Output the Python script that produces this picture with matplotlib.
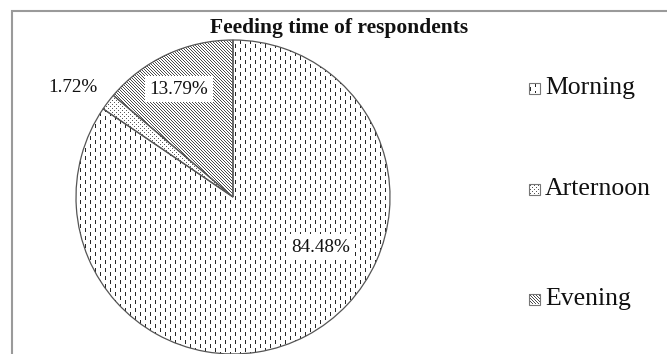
import numpy as np
import matplotlib
matplotlib.use("Agg")
import matplotlib.pyplot as plt
from matplotlib.patches import Rectangle

# Data
categories = ["Morning", "Arternoon", "Evening"]
shares = [84.48, 1.72, 13.79]
pct_labels = ["84.48%", "1.72%", "13.79%"]
title = "Feeding time of respondents"

W, H = 667, 354
plt.rcParams["font.family"] = ["Liberation Serif", "DejaVu Serif"]

fig = plt.figure(figsize=(W / 100, H / 100), dpi=100)
ax = fig.add_axes([0, 0, 1, 1])
ax.set_xlim(0, W)
ax.set_ylim(0, H)
ax.axis("off")

# Pixel-grid fill patterns (row 0 = top of figure)
rows, cols = np.mgrid[0:H, 0:W]

def tex_dashes():
    t = np.ones((H, W))
    col_on = (cols % 5 == 0)
    offset = 4 * ((cols // 5) % 2)
    dash_on = ((rows + offset) % 8) < 4
    t[col_on & dash_on] = 0.15
    return t

def tex_dots():
    t = np.ones((H, W))
    on = ((cols % 4 == 0) & (rows % 4 == 0)) | ((cols % 4 == 2) & (rows % 4 == 2))
    t[on] = 0.35
    return t

def tex_diag():
    t = np.ones((H, W))
    t[(cols - rows) % 3 == 0] = 0.3
    return t

textures = [tex_dashes(), tex_dots(), tex_diag()]

# Pie (clockwise from 12 o'clock)
cx, cy_px, radius = 233, 197, 157
wedges, _ = ax.pie(shares, startangle=90, counterclock=False,
                   center=(cx, H - cy_px), radius=radius, frame=True,
                   wedgeprops=dict(facecolor="none", edgecolor="#555555",
                                   linewidth=0.9, zorder=3))
ax.set_xlim(0, W)
ax.set_ylim(0, H)
ax.set_aspect("equal", adjustable="box")
ax.axis("off")

for w, tex in zip(wedges, textures):
    im = ax.imshow(tex, cmap="gray", vmin=0, vmax=1, origin="upper",
                   extent=(0, W, 0, H), interpolation="nearest", zorder=1)
    im.set_clip_path(w)

# Percentage labels
label_pos = [(321, 247, True), (73, 88, False), (179, 89, True)]
for (x, y, boxed), txt in zip(label_pos, pct_labels):
    kw = dict(ha="center", va="center", fontsize=13.8, color="#111111", zorder=5)
    if boxed:
        kw["bbox"] = dict(boxstyle="square,pad=0.25", facecolor="white",
                          edgecolor="none")
    ax.text(x, H - y, txt, **kw)

# Title
ax.text(339, H - 28, title, ha="center", va="center", fontsize=15.5,
        fontweight="bold", color="#111111", zorder=5)

# Legend
legend_y = [88, 189, 299]
for name, tex, y in zip(categories, textures, legend_y):
    sq = Rectangle((529, H - y - 5.5), 11, 11, facecolor="none",
                   edgecolor="#777777", linewidth=0.8, zorder=4)
    ax.add_patch(sq)
    im = ax.imshow(tex, cmap="gray", vmin=0, vmax=1, origin="upper",
                   extent=(0, W, 0, H), interpolation="nearest", zorder=1)
    im.set_clip_path(sq)
    ax.text(545, H - y, name, ha="left", va="center", fontsize=18.5,
            color="#111111", zorder=5)

# Chart-area border
ax.add_patch(Rectangle((12, -10), W + 10, H - 11 + 10, facecolor="none",
                       edgecolor="#9a9a9a", linewidth=1.5, zorder=6,
                       clip_on=False))

fig.savefig("out.png", dpi=100)
